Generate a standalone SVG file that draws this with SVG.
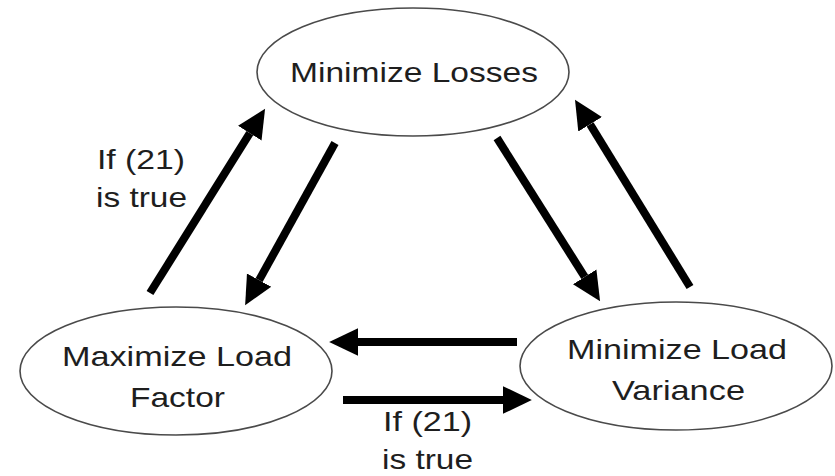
<svg xmlns="http://www.w3.org/2000/svg" width="835" height="476" viewBox="0 0 835 476">
<style>
.node ellipse{fill:#fff;stroke:#4a4a4a;stroke-width:1.6}
text{font-family:"Liberation Sans",Arial,sans-serif;font-size:28px;fill:#1e1e1e}
.conn path{stroke:#000;stroke-width:8;fill:none;marker-end:url(#ah)}
</style>
<defs>
<marker id="ah" markerUnits="userSpaceOnUse" markerWidth="30" markerHeight="30" refX="0" refY="0" viewBox="0 -13 26 26" orient="auto">
<path d="M0,-12 L25,0 L0,12 z" fill="#000"/>
</marker>
</defs>
<rect width="835" height="476" fill="#fff"/>
<g id="minimize-losses" class="node">
<ellipse cx="413" cy="72" rx="156" ry="64"/>
<text x="290" y="82" textLength="248" lengthAdjust="spacingAndGlyphs">Minimize Losses</text>
</g>
<g id="maximize-load-factor" class="node">
<ellipse cx="176" cy="371" rx="156" ry="64"/>
<text x="62" y="366" textLength="230" lengthAdjust="spacingAndGlyphs">Maximize Load</text>
<text x="130" y="407" textLength="95" lengthAdjust="spacingAndGlyphs">Factor</text>
</g>
<g id="minimize-load-variance" class="node">
<ellipse cx="676" cy="366" rx="156" ry="64"/>
<text x="567" y="359" textLength="220" lengthAdjust="spacingAndGlyphs">Minimize Load</text>
<text x="612" y="400" textLength="133" lengthAdjust="spacingAndGlyphs">Variance</text>
</g>
<g id="connectors" class="conn">
<path d="M150,293 L249.8,133.2"/>
<path d="M335,143 L259.1,280.1"/>
<path d="M497,138 L584.7,276.9"/>
<path d="M690,287 L590.1,124.3"/>
<path d="M517,342 L358,342"/>
<path d="M343,400 L503,400"/>
</g>
<g id="labels">
<text x="97" y="169" textLength="88" lengthAdjust="spacingAndGlyphs">If (21)</text>
<text x="96" y="207" textLength="91" lengthAdjust="spacingAndGlyphs">is true</text>
<text x="383" y="431" textLength="89" lengthAdjust="spacingAndGlyphs">If (21)</text>
<text x="382" y="469" textLength="91" lengthAdjust="spacingAndGlyphs">is true</text>
</g>
</svg>
